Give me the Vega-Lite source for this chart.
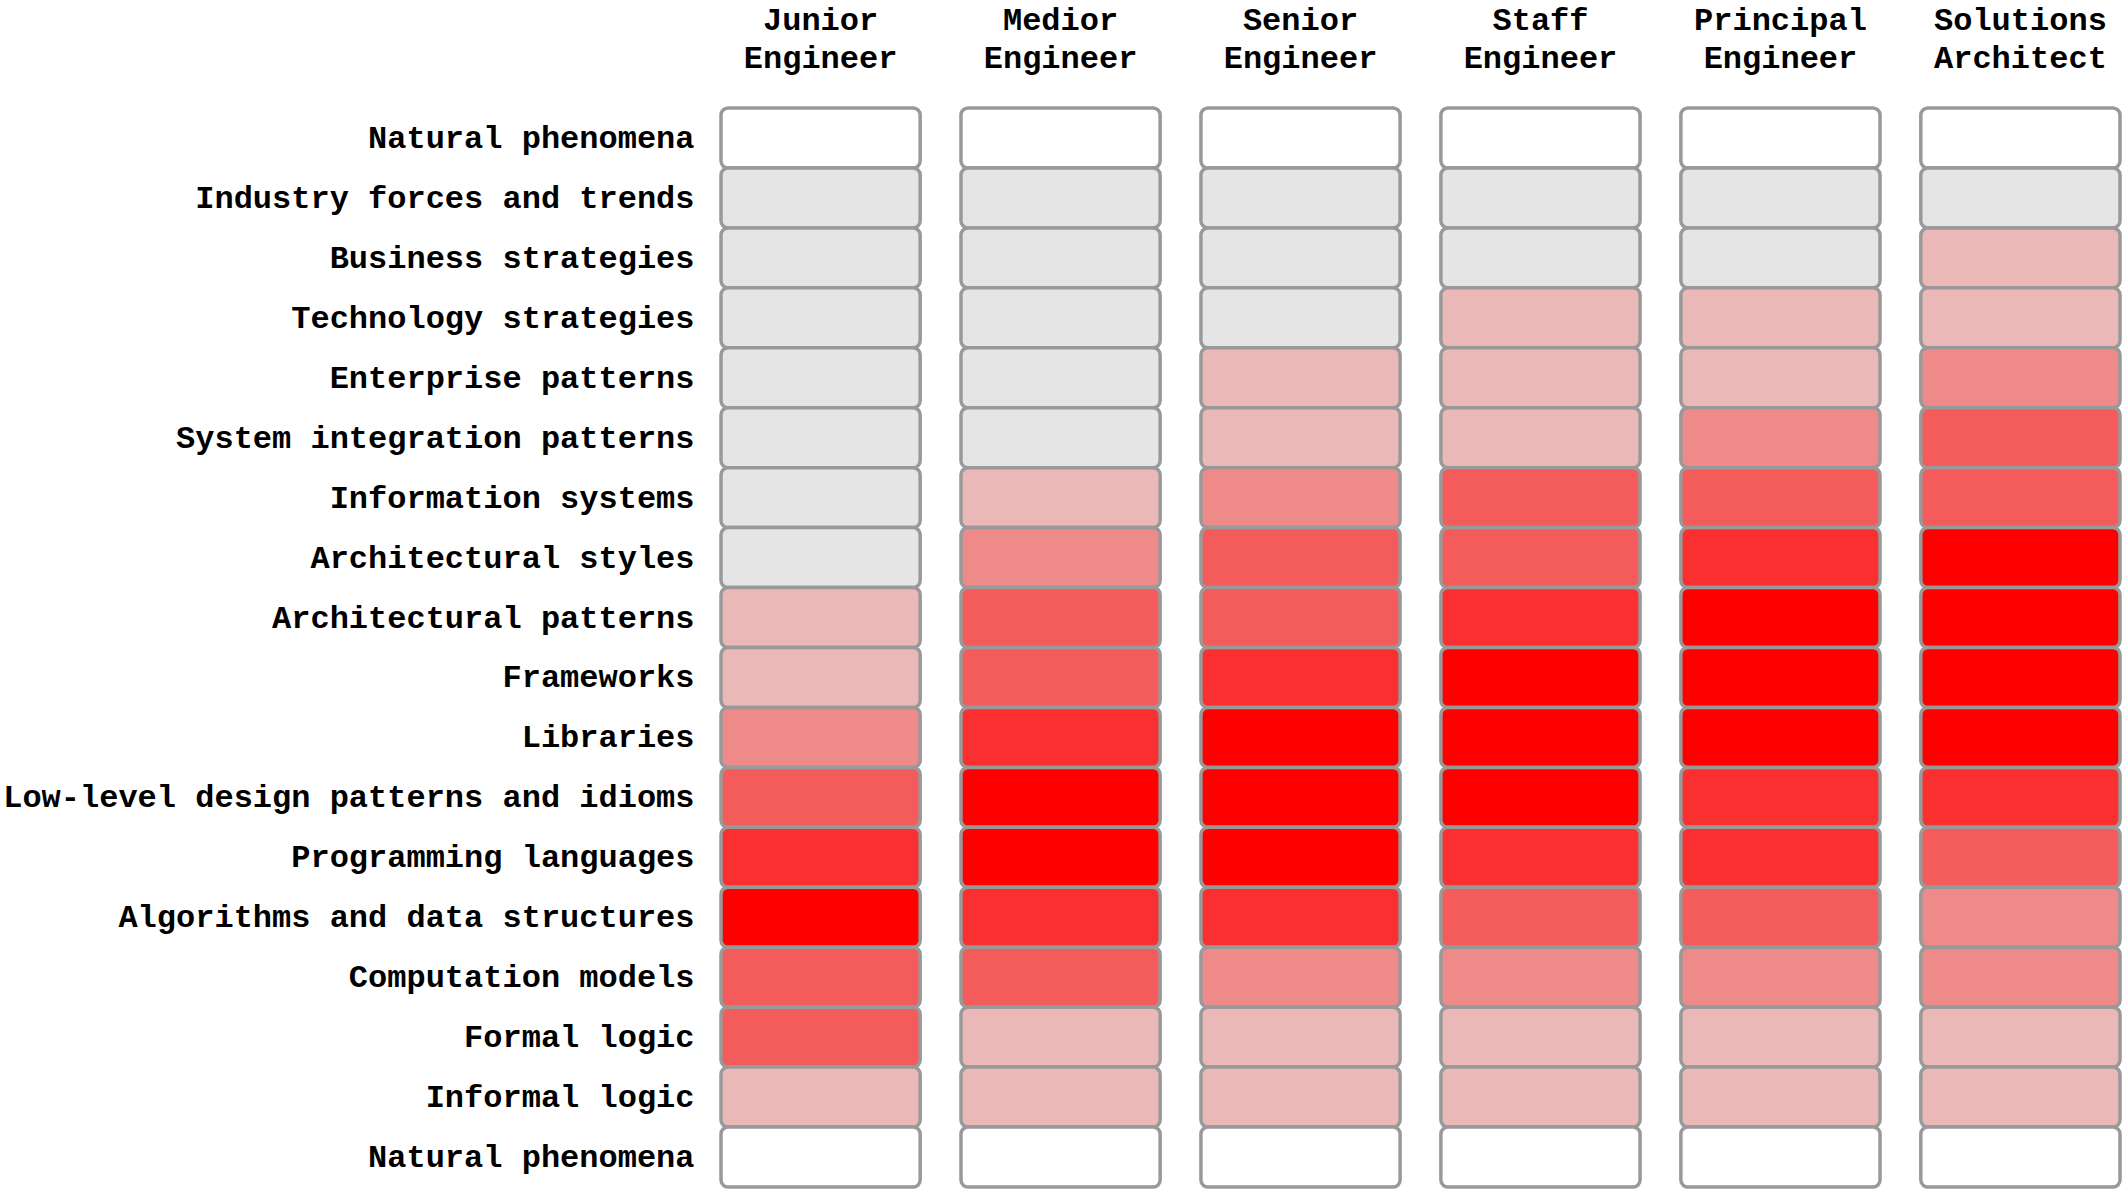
{
  "$schema": "https://vega.github.io/schema/vega-lite/v6.json",
  "autosize": {"type": "none"},
  "width": 1399,
  "height": 1079,
  "padding": {"left": 721, "top": 108, "right": 2, "bottom": 3},
  "background": "white",
  "config": {"view": {"stroke": null}},
  "data": {"values": [
    {"rank":1,"topic":"Natural phenomena","role":"Junior Engineer","level":0},
    {"rank":1,"topic":"Natural phenomena","role":"Medior Engineer","level":0},
    {"rank":1,"topic":"Natural phenomena","role":"Senior Engineer","level":0},
    {"rank":1,"topic":"Natural phenomena","role":"Staff Engineer","level":0},
    {"rank":1,"topic":"Natural phenomena","role":"Principal Engineer","level":0},
    {"rank":1,"topic":"Natural phenomena","role":"Solutions Architect","level":0},
    {"rank":2,"topic":"Industry forces and trends","role":"Junior Engineer","level":1},
    {"rank":2,"topic":"Industry forces and trends","role":"Medior Engineer","level":1},
    {"rank":2,"topic":"Industry forces and trends","role":"Senior Engineer","level":1},
    {"rank":2,"topic":"Industry forces and trends","role":"Staff Engineer","level":1},
    {"rank":2,"topic":"Industry forces and trends","role":"Principal Engineer","level":1},
    {"rank":2,"topic":"Industry forces and trends","role":"Solutions Architect","level":1},
    {"rank":3,"topic":"Business strategies","role":"Junior Engineer","level":1},
    {"rank":3,"topic":"Business strategies","role":"Medior Engineer","level":1},
    {"rank":3,"topic":"Business strategies","role":"Senior Engineer","level":1},
    {"rank":3,"topic":"Business strategies","role":"Staff Engineer","level":1},
    {"rank":3,"topic":"Business strategies","role":"Principal Engineer","level":1},
    {"rank":3,"topic":"Business strategies","role":"Solutions Architect","level":2},
    {"rank":4,"topic":"Technology strategies","role":"Junior Engineer","level":1},
    {"rank":4,"topic":"Technology strategies","role":"Medior Engineer","level":1},
    {"rank":4,"topic":"Technology strategies","role":"Senior Engineer","level":1},
    {"rank":4,"topic":"Technology strategies","role":"Staff Engineer","level":2},
    {"rank":4,"topic":"Technology strategies","role":"Principal Engineer","level":2},
    {"rank":4,"topic":"Technology strategies","role":"Solutions Architect","level":2},
    {"rank":5,"topic":"Enterprise patterns","role":"Junior Engineer","level":1},
    {"rank":5,"topic":"Enterprise patterns","role":"Medior Engineer","level":1},
    {"rank":5,"topic":"Enterprise patterns","role":"Senior Engineer","level":2},
    {"rank":5,"topic":"Enterprise patterns","role":"Staff Engineer","level":2},
    {"rank":5,"topic":"Enterprise patterns","role":"Principal Engineer","level":2},
    {"rank":5,"topic":"Enterprise patterns","role":"Solutions Architect","level":3},
    {"rank":6,"topic":"System integration patterns","role":"Junior Engineer","level":1},
    {"rank":6,"topic":"System integration patterns","role":"Medior Engineer","level":1},
    {"rank":6,"topic":"System integration patterns","role":"Senior Engineer","level":2},
    {"rank":6,"topic":"System integration patterns","role":"Staff Engineer","level":2},
    {"rank":6,"topic":"System integration patterns","role":"Principal Engineer","level":3},
    {"rank":6,"topic":"System integration patterns","role":"Solutions Architect","level":4},
    {"rank":7,"topic":"Information systems","role":"Junior Engineer","level":1},
    {"rank":7,"topic":"Information systems","role":"Medior Engineer","level":2},
    {"rank":7,"topic":"Information systems","role":"Senior Engineer","level":3},
    {"rank":7,"topic":"Information systems","role":"Staff Engineer","level":4},
    {"rank":7,"topic":"Information systems","role":"Principal Engineer","level":4},
    {"rank":7,"topic":"Information systems","role":"Solutions Architect","level":4},
    {"rank":8,"topic":"Architectural styles","role":"Junior Engineer","level":1},
    {"rank":8,"topic":"Architectural styles","role":"Medior Engineer","level":3},
    {"rank":8,"topic":"Architectural styles","role":"Senior Engineer","level":4},
    {"rank":8,"topic":"Architectural styles","role":"Staff Engineer","level":4},
    {"rank":8,"topic":"Architectural styles","role":"Principal Engineer","level":5},
    {"rank":8,"topic":"Architectural styles","role":"Solutions Architect","level":6},
    {"rank":9,"topic":"Architectural patterns","role":"Junior Engineer","level":2},
    {"rank":9,"topic":"Architectural patterns","role":"Medior Engineer","level":4},
    {"rank":9,"topic":"Architectural patterns","role":"Senior Engineer","level":4},
    {"rank":9,"topic":"Architectural patterns","role":"Staff Engineer","level":5},
    {"rank":9,"topic":"Architectural patterns","role":"Principal Engineer","level":6},
    {"rank":9,"topic":"Architectural patterns","role":"Solutions Architect","level":6},
    {"rank":10,"topic":"Frameworks","role":"Junior Engineer","level":2},
    {"rank":10,"topic":"Frameworks","role":"Medior Engineer","level":4},
    {"rank":10,"topic":"Frameworks","role":"Senior Engineer","level":5},
    {"rank":10,"topic":"Frameworks","role":"Staff Engineer","level":6},
    {"rank":10,"topic":"Frameworks","role":"Principal Engineer","level":6},
    {"rank":10,"topic":"Frameworks","role":"Solutions Architect","level":6},
    {"rank":11,"topic":"Libraries","role":"Junior Engineer","level":3},
    {"rank":11,"topic":"Libraries","role":"Medior Engineer","level":5},
    {"rank":11,"topic":"Libraries","role":"Senior Engineer","level":6},
    {"rank":11,"topic":"Libraries","role":"Staff Engineer","level":6},
    {"rank":11,"topic":"Libraries","role":"Principal Engineer","level":6},
    {"rank":11,"topic":"Libraries","role":"Solutions Architect","level":6},
    {"rank":12,"topic":"Low-level design patterns and idioms","role":"Junior Engineer","level":4},
    {"rank":12,"topic":"Low-level design patterns and idioms","role":"Medior Engineer","level":6},
    {"rank":12,"topic":"Low-level design patterns and idioms","role":"Senior Engineer","level":6},
    {"rank":12,"topic":"Low-level design patterns and idioms","role":"Staff Engineer","level":6},
    {"rank":12,"topic":"Low-level design patterns and idioms","role":"Principal Engineer","level":5},
    {"rank":12,"topic":"Low-level design patterns and idioms","role":"Solutions Architect","level":5},
    {"rank":13,"topic":"Programming languages","role":"Junior Engineer","level":5},
    {"rank":13,"topic":"Programming languages","role":"Medior Engineer","level":6},
    {"rank":13,"topic":"Programming languages","role":"Senior Engineer","level":6},
    {"rank":13,"topic":"Programming languages","role":"Staff Engineer","level":5},
    {"rank":13,"topic":"Programming languages","role":"Principal Engineer","level":5},
    {"rank":13,"topic":"Programming languages","role":"Solutions Architect","level":4},
    {"rank":14,"topic":"Algorithms and data structures","role":"Junior Engineer","level":6},
    {"rank":14,"topic":"Algorithms and data structures","role":"Medior Engineer","level":5},
    {"rank":14,"topic":"Algorithms and data structures","role":"Senior Engineer","level":5},
    {"rank":14,"topic":"Algorithms and data structures","role":"Staff Engineer","level":4},
    {"rank":14,"topic":"Algorithms and data structures","role":"Principal Engineer","level":4},
    {"rank":14,"topic":"Algorithms and data structures","role":"Solutions Architect","level":3},
    {"rank":15,"topic":"Computation models","role":"Junior Engineer","level":4},
    {"rank":15,"topic":"Computation models","role":"Medior Engineer","level":4},
    {"rank":15,"topic":"Computation models","role":"Senior Engineer","level":3},
    {"rank":15,"topic":"Computation models","role":"Staff Engineer","level":3},
    {"rank":15,"topic":"Computation models","role":"Principal Engineer","level":3},
    {"rank":15,"topic":"Computation models","role":"Solutions Architect","level":3},
    {"rank":16,"topic":"Formal logic","role":"Junior Engineer","level":4},
    {"rank":16,"topic":"Formal logic","role":"Medior Engineer","level":2},
    {"rank":16,"topic":"Formal logic","role":"Senior Engineer","level":2},
    {"rank":16,"topic":"Formal logic","role":"Staff Engineer","level":2},
    {"rank":16,"topic":"Formal logic","role":"Principal Engineer","level":2},
    {"rank":16,"topic":"Formal logic","role":"Solutions Architect","level":2},
    {"rank":17,"topic":"Informal logic","role":"Junior Engineer","level":2},
    {"rank":17,"topic":"Informal logic","role":"Medior Engineer","level":2},
    {"rank":17,"topic":"Informal logic","role":"Senior Engineer","level":2},
    {"rank":17,"topic":"Informal logic","role":"Staff Engineer","level":2},
    {"rank":17,"topic":"Informal logic","role":"Principal Engineer","level":2},
    {"rank":17,"topic":"Informal logic","role":"Solutions Architect","level":2},
    {"rank":18,"topic":"Natural phenomena","role":"Junior Engineer","level":0},
    {"rank":18,"topic":"Natural phenomena","role":"Medior Engineer","level":0},
    {"rank":18,"topic":"Natural phenomena","role":"Senior Engineer","level":0},
    {"rank":18,"topic":"Natural phenomena","role":"Staff Engineer","level":0},
    {"rank":18,"topic":"Natural phenomena","role":"Principal Engineer","level":0},
    {"rank":18,"topic":"Natural phenomena","role":"Solutions Architect","level":0}
  ]},
  "transform": [{"calculate": "datum.rank + '|' + datum.topic", "as": "key"}],
  "mark": {"type": "rect", "stroke": "#999999", "strokeWidth": 3.5, "cornerRadius": 7},
  "encoding": {
    "x": {
      "field": "role", "type": "nominal",
      "sort": ["Junior Engineer", "Medior Engineer", "Senior Engineer", "Staff Engineer", "Principal Engineer", "Solutions Architect"],
      "scale": {"paddingInner": 0.17, "paddingOuter": 0},
      "axis": {
        "orient": "top", "title": null, "domain": false, "ticks": false,
        "labelAngle": 0, "labelExpr": "split(datum.label, ' ')",
        "labelFont": "Courier New, Nimbus Mono PS, FreeMono, Courier, Liberation Mono, monospace", "labelFontWeight": "bold", "labelFontSize": 32,
        "labelColor": "black", "labelLineHeight": 38, "labelPadding": 72, "labelLimit": 500
      }
    },
    "y": {
      "field": "key", "type": "nominal",
      "sort": {"field": "rank", "op": "min"},
      "scale": {"paddingInner": 0, "paddingOuter": 0},
      "axis": {
        "title": null, "domain": false, "ticks": false,
        "labelExpr": "split(datum.label, '|')[1]",
        "labelFont": "Courier New, Nimbus Mono PS, FreeMono, Courier, Liberation Mono, monospace", "labelFontWeight": "bold", "labelFontSize": 32,
        "labelColor": "black", "labelPadding": 27, "labelLimit": 800
      }
    },
    "color": {
      "field": "level", "type": "ordinal",
      "scale": {"domain": [0, 1, 2, 3, 4, 5, 6], "range": ["#ffffff", "#e5e5e5", "#ebb8b8", "#ef8a8a", "#f45b5b", "#fa3030", "#ff0000"]},
      "legend": null
    }
  }
}
